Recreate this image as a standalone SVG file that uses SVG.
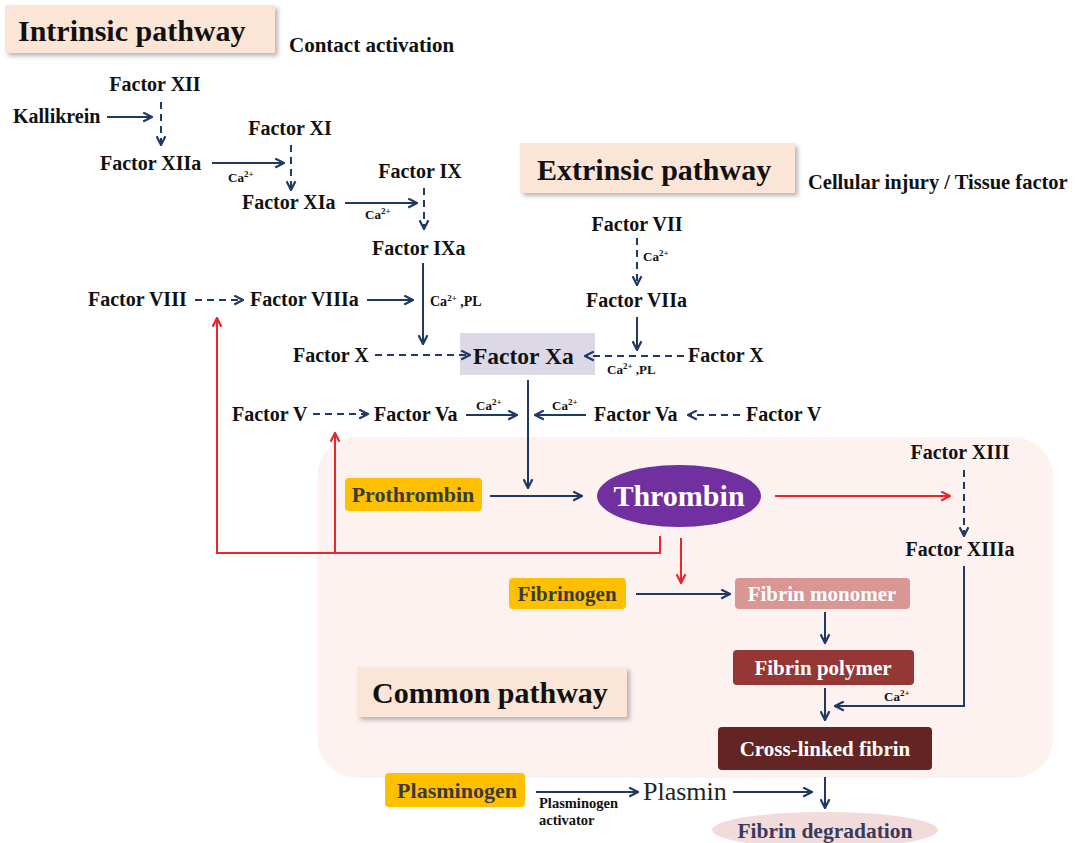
<svg xmlns="http://www.w3.org/2000/svg" width="1082" height="843" viewBox="0 0 1082 843">
<defs>
<style>
.t{font-family:"Liberation Serif","DejaVu Serif",serif;font-weight:bold;fill:#111;}
.f{font-size:20px;}
.title{font-size:30px;}
.sm{font-size:13px;}
.bx{font-size:21px;text-anchor:middle;}
.c{stroke:#1f3864;stroke-width:2;fill:none;}
.d{stroke-dasharray:7 5;}
.r{stroke:#e8262d;stroke-width:2;fill:none;}
.tb{fill:#fbe5d6;}
</style>
<marker id="a" viewBox="0 0 10 10" refX="9" refY="5" markerWidth="11" markerHeight="11" markerUnits="userSpaceOnUse" orient="auto">
<path d="M1,1 L9,5 L1,9" fill="none" stroke="#1f3864" stroke-width="2"/>
</marker>
<marker id="ar" viewBox="0 0 10 10" refX="9" refY="5" markerWidth="11" markerHeight="11" markerUnits="userSpaceOnUse" orient="auto">
<path d="M1,1 L9,5 L1,9" fill="none" stroke="#e8262d" stroke-width="2"/>
</marker>
<filter id="sh" x="-10%" y="-20%" width="130%" height="150%">
<feDropShadow dx="3" dy="3" stdDeviation="2" flood-color="#888" flood-opacity="0.6"/>
</filter>
</defs>
<rect width="1082" height="843" fill="#fff"/>

<g id="common-bg"><rect x="317" y="437" width="736" height="341" rx="40" fill="#fdf2f0"/></g>

<g id="titles">
<g id="intrinsic-title"><rect class="tb" x="5" y="5" width="270" height="48" filter="url(#sh)"/><text class="t title" x="18" y="41">Intrinsic pathway</text></g>
<text id="contact" class="t" font-size="21" x="289" y="52">Contact activation</text>
<g id="extrinsic-title"><rect class="tb" x="520" y="143" width="275" height="50" filter="url(#sh)"/><text class="t title" x="537" y="180">Extrinsic pathway</text></g>
<text id="cellular" class="t" font-size="20.5" x="808" y="189">Cellular injury / Tissue factor</text>
<g id="common-title"><rect class="tb" x="357" y="667" width="270" height="50" filter="url(#sh)"/><text class="t title" x="372" y="703">Common pathway</text></g>
</g>

<g id="n-factor-xa-bg"><rect x="460" y="333" width="135" height="42" fill="#dcd8e6"/></g>

<g id="connectors">
<line class="c" x1="107" y1="117" x2="152" y2="117" marker-end="url(#a)"/>
<line class="c d" x1="161" y1="102" x2="161" y2="145" marker-end="url(#a)"/>
<line class="c" x1="212" y1="163" x2="284" y2="163" marker-end="url(#a)"/>
<line class="c d" x1="291" y1="145" x2="291" y2="190" marker-end="url(#a)"/>
<line class="c" x1="345" y1="203" x2="417" y2="203" marker-end="url(#a)"/>
<line class="c d" x1="424" y1="188" x2="424" y2="229" marker-end="url(#a)"/>
<line class="c" x1="423" y1="263" x2="423" y2="344" marker-end="url(#a)"/>
<line class="c d" x1="195" y1="300" x2="243" y2="300" marker-end="url(#a)"/>
<line class="c" x1="367" y1="300" x2="413" y2="300" marker-end="url(#a)"/>
<line class="c d" x1="375" y1="355" x2="470" y2="355" marker-end="url(#a)"/>
<line class="c d" x1="637" y1="238" x2="637" y2="285" marker-end="url(#a)"/>
<line class="c" x1="637" y1="317" x2="637" y2="350" marker-end="url(#a)"/>
<line class="c d" x1="684" y1="356" x2="585" y2="356" marker-end="url(#a)"/>
<line class="c d" x1="313" y1="414" x2="368" y2="414" marker-end="url(#a)"/>
<line class="c" x1="466" y1="415" x2="517" y2="415" marker-end="url(#a)"/>
<line class="c" x1="528" y1="380" x2="528" y2="488" marker-end="url(#a)"/>
<line class="c" x1="586" y1="415" x2="535" y2="415" marker-end="url(#a)"/>
<line class="c d" x1="740" y1="415" x2="688" y2="415" marker-end="url(#a)"/>
<line class="c" x1="490" y1="496" x2="582" y2="496" marker-end="url(#a)"/>
<line class="r" x1="775" y1="496" x2="950" y2="496" marker-end="url(#ar)"/>
<line class="c d" x1="964" y1="470" x2="964" y2="536" marker-end="url(#a)"/>
<path class="c" d="M964,566 V706 H835" marker-end="url(#a)"/>
<path class="r" d="M660,536 V553 H217 V318" marker-end="url(#ar)"/>
<path class="r" d="M335,553 V433" marker-end="url(#ar)"/>
<line class="r" x1="681" y1="538" x2="681" y2="583" marker-end="url(#ar)"/>
<line class="c" x1="636" y1="594" x2="730" y2="594" marker-end="url(#a)"/>
<line class="c" x1="825" y1="612" x2="825" y2="643" marker-end="url(#a)"/>
<line class="c" x1="825" y1="688" x2="825" y2="720" marker-end="url(#a)"/>
<line class="c" x1="536" y1="792" x2="638" y2="792" marker-end="url(#a)"/>
<line class="c" x1="733" y1="792" x2="812" y2="792" marker-end="url(#a)"/>
<line class="c" x1="825" y1="777" x2="825" y2="808" marker-end="url(#a)"/>
</g>

<g id="connector-labels">
<text class="t sm" x="228" y="182">Ca<tspan font-size="9" dy="-5">2+</tspan></text>
<text class="t sm" x="365" y="219">Ca<tspan font-size="9" dy="-5">2+</tspan></text>
<text class="t" font-size="14" x="430" y="306">Ca<tspan font-size="9" dy="-5">2+</tspan><tspan dy="5"> ,PL</tspan></text>
<text class="t sm" x="643" y="261">Ca<tspan font-size="9" dy="-5">2+</tspan></text>
<text class="t sm" x="607" y="374">Ca<tspan font-size="9" dy="-5">2+</tspan><tspan dy="5"> ,PL</tspan></text>
<text class="t sm" x="476" y="410">Ca<tspan font-size="9" dy="-5">2+</tspan></text>
<text class="t sm" x="552" y="410">Ca<tspan font-size="9" dy="-5">2+</tspan></text>
<text class="t sm" x="884" y="701">Ca<tspan font-size="9" dy="-5">2+</tspan></text>
<text class="t" font-size="14.5" x="539" y="808">Plasminogen</text>
<text class="t" font-size="14.5" x="539" y="825">activator</text>
</g>

<g id="n-factor-xii"><text class="t f" x="155" y="91" text-anchor="middle">Factor XII</text></g>
<g id="n-kallikrein"><text class="t f" x="13" y="123">Kallikrein</text></g>
<g id="n-factor-xiia"><text class="t f" x="100" y="170">Factor XIIa</text></g>
<g id="n-factor-xi"><text class="t f" x="290" y="135" text-anchor="middle">Factor XI</text></g>
<g id="n-factor-xia"><text class="t f" x="242" y="209">Factor XIa</text></g>
<g id="n-factor-ix"><text class="t f" x="420" y="178" text-anchor="middle">Factor IX</text></g>
<g id="n-factor-ixa"><text class="t f" x="372" y="255">Factor IXa</text></g>
<g id="n-factor-viii"><text class="t f" x="88" y="306">Factor VIII</text></g>
<g id="n-factor-viiia"><text class="t f" x="250" y="306">Factor VIIIa</text></g>
<g id="n-factor-x-left"><text class="t f" x="293" y="362">Factor X</text></g>
<g id="n-factor-xa"><text class="t" font-size="23.5" x="473" y="364">Factor Xa</text></g>
<g id="n-factor-vii"><text class="t f" x="637" y="231" text-anchor="middle">Factor VII</text></g>
<g id="n-factor-viia"><text class="t f" x="586" y="307">Factor VIIa</text></g>
<g id="n-factor-x-right"><text class="t f" x="688" y="362">Factor X</text></g>
<g id="n-factor-v-left"><text class="t f" x="232" y="421">Factor V</text></g>
<g id="n-factor-va-left"><text class="t f" x="374" y="421">Factor Va</text></g>
<g id="n-factor-va-right"><text class="t f" x="594" y="421">Factor Va</text></g>
<g id="n-factor-v-right"><text class="t f" x="746" y="421">Factor V</text></g>
<g id="n-prothrombin"><rect x="345" y="478" width="137" height="33" rx="4" fill="#ffc000"/><text class="t" font-size="22" text-anchor="middle" x="413" y="502" style="fill:#3a3a3a">Prothrombin</text></g>
<g id="n-thrombin"><ellipse cx="679" cy="496" rx="82" ry="31" fill="#7030a0"/><text class="t" font-size="30" x="679" y="506" text-anchor="middle" style="fill:#fff">Thrombin</text></g>
<g id="n-factor-xiii"><text class="t f" x="960" y="459" text-anchor="middle">Factor XIII</text></g>
<g id="n-factor-xiiia"><text class="t f" x="960" y="556" text-anchor="middle">Factor XIIIa</text></g>
<g id="n-fibrinogen"><rect x="509" y="578" width="117" height="31" rx="4" fill="#ffc000"/><text class="t bx" x="567" y="601" style="fill:#3a3a3a">Fibrinogen</text></g>
<g id="n-fibrin-monomer"><rect x="735" y="578" width="175" height="31" rx="4" fill="#d99694"/><text class="t bx" x="822" y="601" style="fill:#fff">Fibrin monomer</text></g>
<g id="n-fibrin-polymer"><rect x="733" y="650" width="181" height="35" rx="4" fill="#953735"/><text class="t bx" x="823" y="675" style="fill:#fff">Fibrin polymer</text></g>
<g id="n-cross-linked"><rect x="718" y="727" width="214" height="43" rx="4" fill="#632523"/><text class="t bx" x="825" y="756" style="fill:#fff">Cross-linked fibrin</text></g>
<g id="n-plasminogen"><rect x="385" y="773" width="140" height="34" rx="4" fill="#ffc000"/><text class="t" font-size="22" text-anchor="middle" x="457" y="798" style="fill:#3a3a3a">Plasminogen</text></g>
<g id="n-plasmin"><text x="643" y="800" font-family="Liberation Serif, DejaVu Serif, serif" font-size="26" fill="#222">Plasmin</text></g>
<g id="n-fibrin-degradation"><ellipse cx="825" cy="830" rx="113" ry="18" fill="#f2dcdb"/><text class="t" font-size="21.5" x="825" y="838" text-anchor="middle" style="fill:#3a3a5a">Fibrin degradation</text></g>
</svg>
